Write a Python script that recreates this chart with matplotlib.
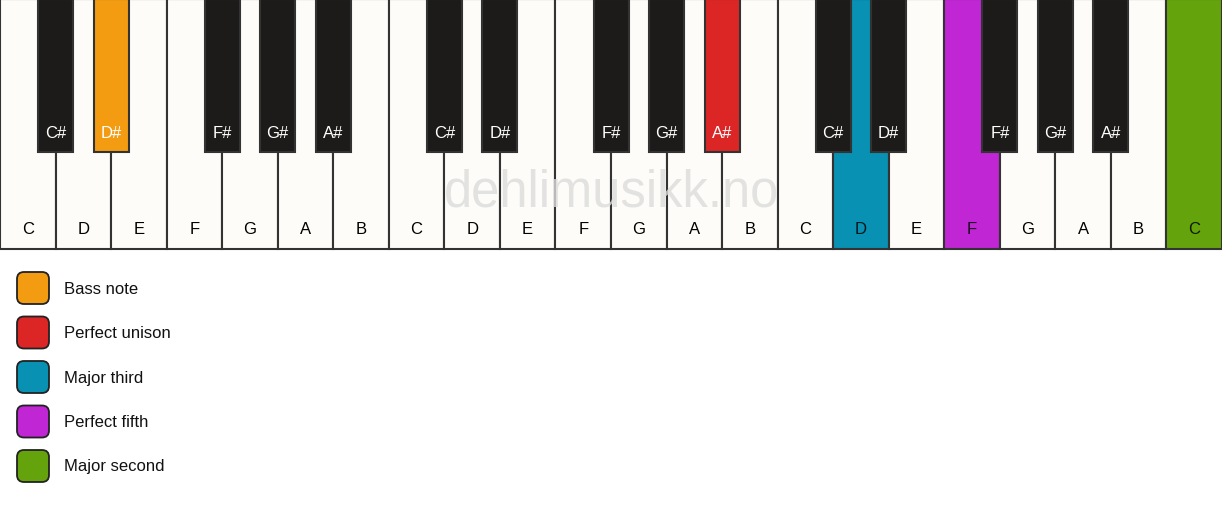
import matplotlib
matplotlib.use("Agg")
import matplotlib.pyplot as plt
from matplotlib.patches import Rectangle, FancyBboxPatch

plt.rcParams['font.family'] = ['Liberation Sans', 'DejaVu Sans']

# keyboard layout
white_names = ['C', 'D', 'E', 'F', 'G', 'A', 'B'] * 3 + ['C']
black_names = ['C#', 'D#', 'F#', 'G#', 'A#']
black_after = [0, 1, 3, 4, 5]   # white index (within octave) the black key sits after
n_octaves = 3

# highlighted keys: index on keyboard -> colour
hl_white = {15: '#0891b2', 17: '#c026d3', 21: '#65a30d'}
hl_black = {1: '#f39c12', 9: '#dc2626'}

legend_labels = ['Bass note', 'Perfect unison', 'Major third', 'Perfect fifth', 'Major second']
legend_colors = ['#f39c12', '#dc2626', '#0891b2', '#c026d3', '#65a30d']

W, H = 1222, 506
kw = W / len(white_names)
white_h = 250
black_w = 35
black_h = 153
edge = '#333333'

fig = plt.figure(figsize=(W / 100, H / 100), dpi=100)
ax = fig.add_axes([0, 0, 1, 1])
ax.set_xlim(0, W)
ax.set_ylim(H, 0)
ax.axis('off')
fig.patch.set_facecolor('white')

# white keys
for i, name in enumerate(white_names):
    fc = hl_white.get(i, '#fdfcf9')
    ax.add_patch(Rectangle((i * kw, 0), kw, white_h, facecolor=fc, edgecolor=edge, lw=1.5, zorder=1))
    ax.text(i * kw + kw / 2, 230, name, ha='center', va='center', fontsize=12,
            color='black', alpha=0.85 if i in hl_white else 1, zorder=4)

# watermark
ax.text(W / 2 + 0.5, 193, 'dehlimusikk.no', ha='center', va='center', fontsize=36.5,
        color='#dcdcdc', alpha=0.8, zorder=2)

# black keys
k = 0
for o in range(n_octaves):
    for name, wi in zip(black_names, black_after):
        cx = (o * 7 + wi + 1) * kw
        fc = hl_black.get(k, '#1c1b19')
        ax.add_patch(Rectangle((cx - black_w / 2, 0), black_w, black_h, facecolor=fc,
                               edgecolor=edge, lw=1.5, zorder=3))
        ax.text(cx, 133, name, ha='center', va='center', fontsize=12, color='white', zorder=4)
        k += 1

# legend
for j, (lab, col) in enumerate(zip(legend_labels, legend_colors)):
    y0 = 273 + j * 44.5
    ax.add_patch(FancyBboxPatch((17, y0), 32, 32, boxstyle='round,pad=0,rounding_size=7',
                                facecolor=col, edgecolor='#222222', lw=1.3))
    ax.text(64, y0 + 16, lab, ha='left', va='center', fontsize=12, color='#111111')

fig.savefig('out.png', dpi=100)
